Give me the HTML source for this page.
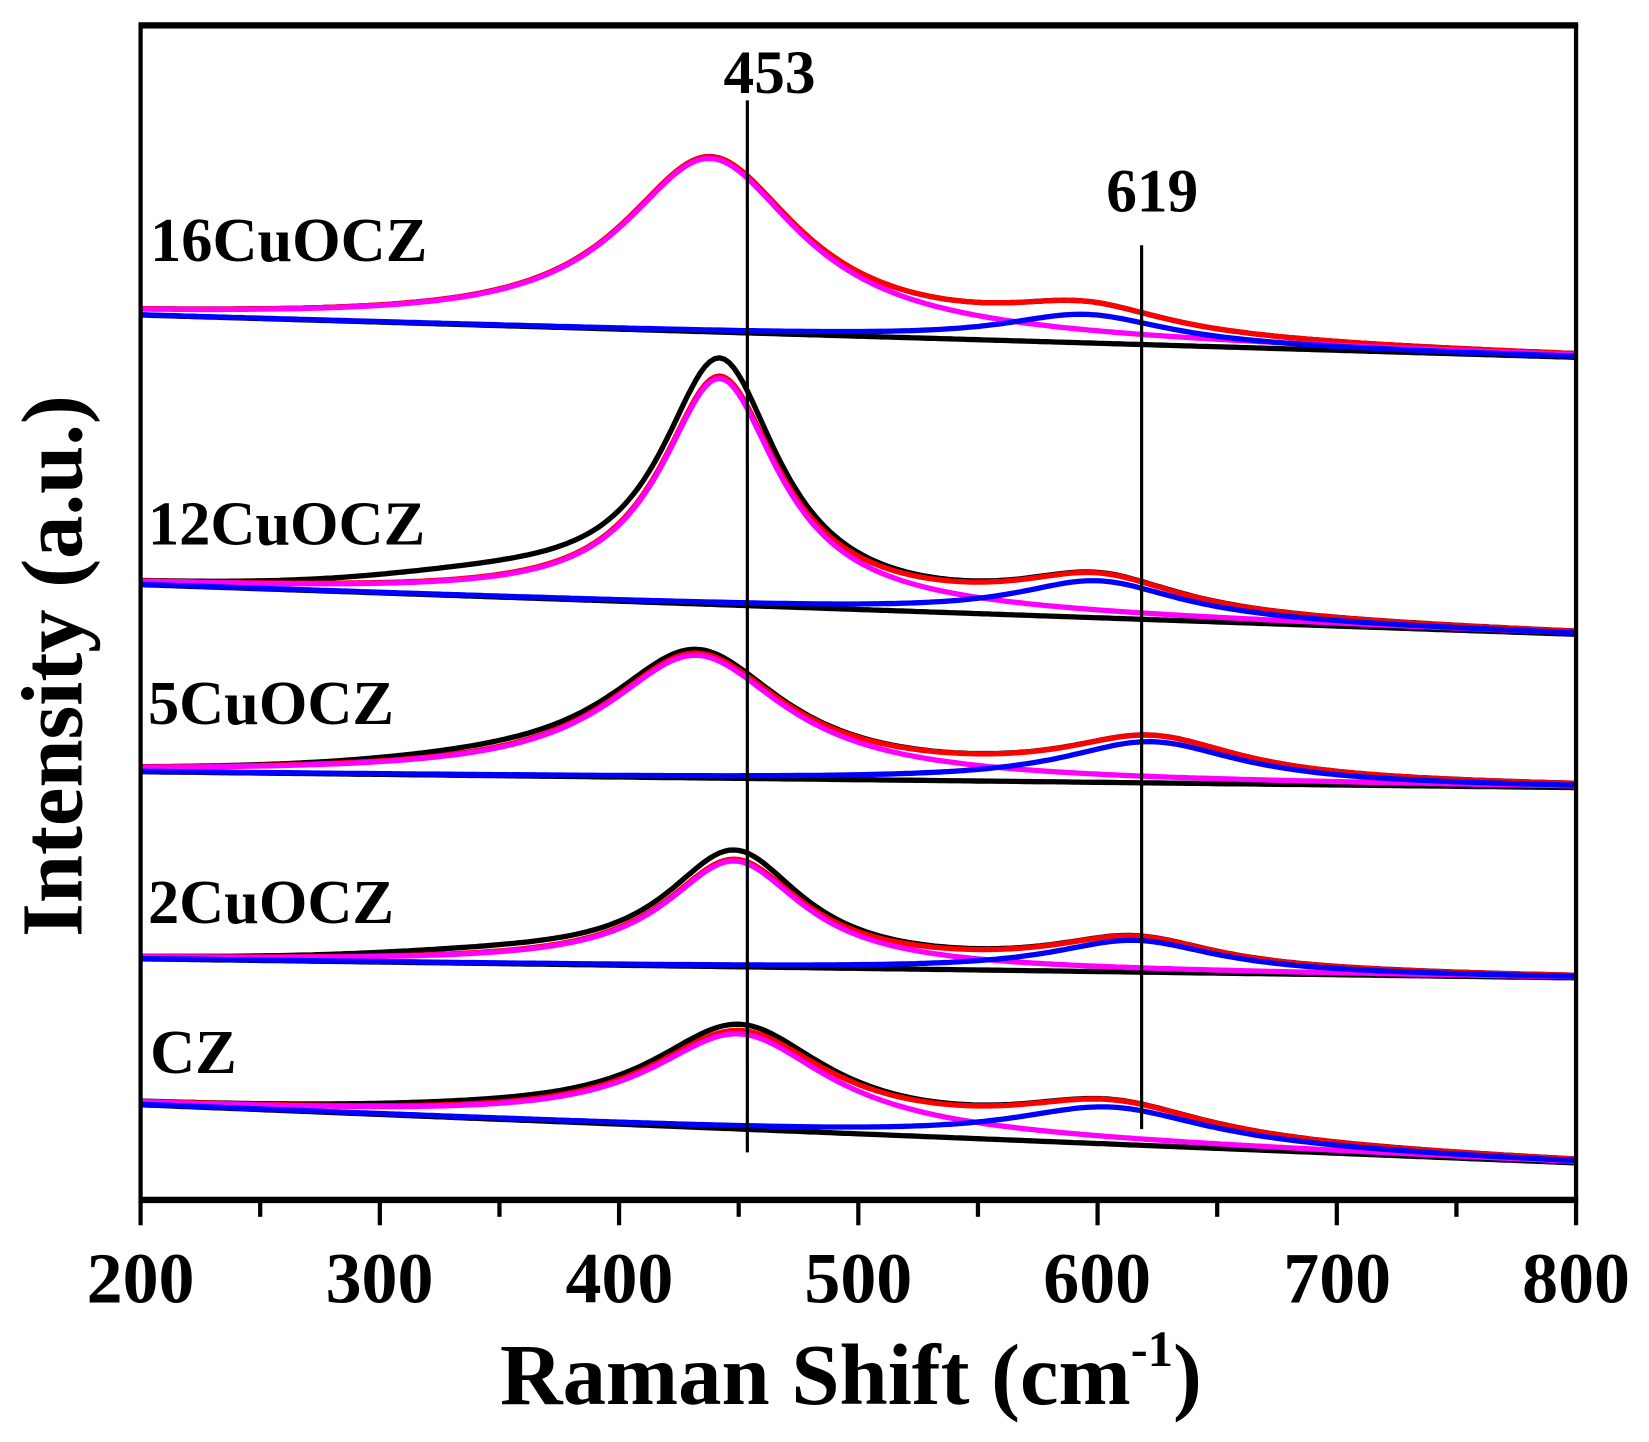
<!DOCTYPE html>
<html><head><meta charset="utf-8"><style>
html,body{margin:0;padding:0;background:#fff;}
svg{display:block;}
text{font-family:"Liberation Serif",serif;font-weight:bold;fill:#000;}
</style></head><body>
<svg id="s" width="1649" height="1442" viewBox="0 0 1560 1364" preserveAspectRatio="none" xmlns="http://www.w3.org/2000/svg">
<rect x="0" y="0" width="1560" height="1364" fill="#fff"/>
<g id="curves"></g>
<rect x="133" y="25" width="1358" height="1110" fill="none" stroke="#000" stroke-width="4"/>
<line x1="131" y1="1135" x2="1493" y2="1135" stroke="#000" stroke-width="6"/>
<line x1="131" y1="24" x2="1493" y2="24" stroke="#000" stroke-width="6"/>
<g id="ticks" stroke="#000" stroke-width="4"></g>
<line x1="707" y1="95" x2="707" y2="1090" stroke="#000" stroke-width="3"/>
<line x1="1080" y1="232" x2="1080" y2="1068" stroke="#000" stroke-width="3"/>
<text x="728" y="88" font-size="58" text-anchor="middle">453</text>
<text x="1090" y="200" font-size="58" text-anchor="middle">619</text>
<text x="142" y="247" font-size="59">16CuOCZ</text>
<text x="140" y="515" font-size="59">12CuOCZ</text>
<text x="140" y="685" font-size="59">5CuOCZ</text>
<text x="140" y="873" font-size="59">2CuOCZ</text>
<text x="142" y="1015" font-size="59">CZ</text>
<g font-size="68" text-anchor="middle">
<text x="133" y="1232">200</text><text x="359" y="1232">300</text><text x="586" y="1232">400</text>
<text x="812" y="1232">500</text><text x="1038" y="1232">600</text><text x="1265" y="1232">700</text><text x="1491" y="1232">800</text>
</g>
<text x="805" y="1328" font-size="82" text-anchor="middle">Raman Shift (cm<tspan font-size="48" dy="-36">-1</tspan><tspan dy="36">)</tspan></text>
<text transform="translate(77,630) rotate(-90)" font-size="82" text-anchor="middle">Intensity (a.u.)</text>
</svg>
<script>
(function(){
var K=1358/600;
var tk=document.getElementById('ticks'),h='';
for(var v=200;v<=800;v+=50){var x=133+K*(v-200);var L=(v%100==0)?22:14;h+='<line x1="'+x+'" y1="1137" x2="'+x+'" y2="'+(1137+L)+'"/>';}
tk.innerHTML=h;
function X(c){return 133+K*(c-200);}
function lor(c,p,a,w){var d=(c-p)/w;return a/(1+d*d);}
var S=[
 {b0:298,b1:338,p1:438,a1:164,w1:45,p2:595,a2:27,w2:42,k:1.0,sh:0},
 {b0:553,b1:600,p1:442,a1:214,w1:30,p2:600,a2:35,w2:42,k:1.07,sh:12},
 {b0:730,b1:745,p1:432,a1:116,w1:45,p2:622,a2:39,w2:45,k:1.02,sh:5},
 {b0:907,b1:925,p1:448,a1:100,w1:35,p2:615,a2:30,w2:42,k:1.08,sh:5},
 {b0:1045,b1:1100,p1:450,a1:90,w1:45,p2:605,a2:35,w2:50,k:1.06,sh:3}
];
var out='';
for(var i=0;i<S.length;i++){
 var s=S[i];
 var pb='',pd='',pr='',pm='',pl='';
 for(var c=200;c<=800;c+=2){
  var b=s.b0+(s.b1-s.b0)*(c-200)/600;
  var l1=lor(c,s.p1,s.a1,s.w1),l2=lor(c,s.p2,s.a2,s.w2);
  var sh=s.sh*Math.exp(-Math.pow((c-350)/70,2));
  var x=X(c).toFixed(1);
  var sep=(c==200)?'M':'L';
  pb+=sep+x+','+b.toFixed(1);
  pd+=sep+x+','+(b-l1*s.k-l2-sh).toFixed(1);
  pr+=sep+x+','+(b-l1-l2).toFixed(1);
  pm+=sep+x+','+(b-l1).toFixed(1);
  pl+=sep+x+','+(b-l2).toFixed(1);
 }
 out+='<path d="'+pb+'" fill="none" stroke="#000" stroke-width="5"/>';
 out+='<path d="'+pd+'" fill="none" stroke="#000" stroke-width="5"/>';
 out+='<path d="'+pr+'" fill="none" stroke="#f00" stroke-width="5"/>';
 out+='<path d="'+pm+'" fill="none" stroke="#f0f" stroke-width="5"/>';
 out+='<path d="'+pl+'" fill="none" stroke="#00f" stroke-width="5"/>';
}
document.getElementById('curves').innerHTML=out;
})();
</script>
</body></html>
